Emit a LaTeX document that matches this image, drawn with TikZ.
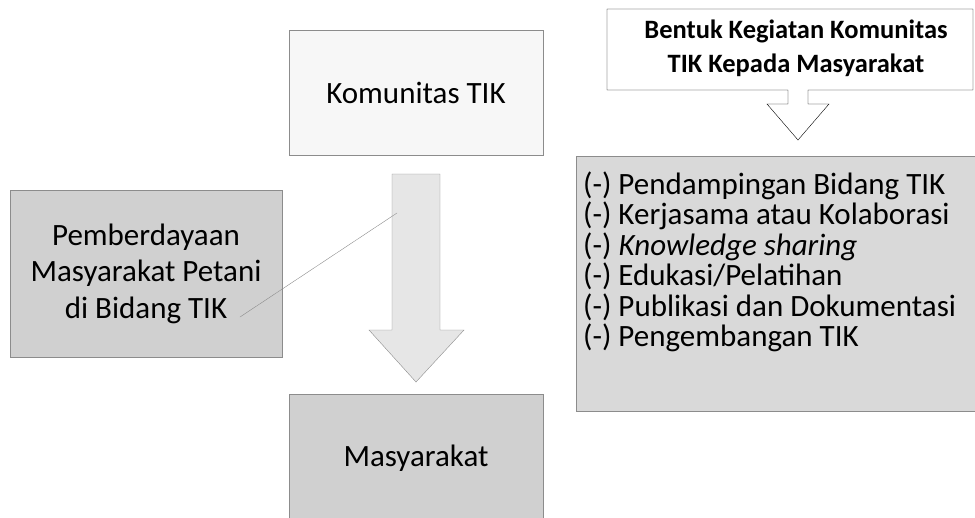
\documentclass[tikz,border=0pt]{standalone}
\usepackage{fontspec}
\setmainfont{Carlito}
\usetikzlibrary{positioning}

\definecolor{boxgray}{HTML}{D0D0D0}
\definecolor{listgray}{HTML}{D9D9D9}
\definecolor{arrowgray}{HTML}{E6E6E6}
\definecolor{topgray}{HTML}{F7F7F7}
\definecolor{edgegray}{HTML}{8C8C8C}

\tikzset{
  box/.style={draw=edgegray, rectangle, inner sep=0pt, align=center,
    font=\fontsize{31}{36.5}\selectfont},
}

\begin{document}
\begin{tikzpicture}[x=1pt,y=-1pt]
\useasboundingbox (0,0) rectangle (975,517);

% boxes left
\node[box, fill=topgray, minimum width=254pt, minimum height=125pt] (komunitas) at (416,92.5) {Komunitas TIK};
\node[box, fill=boxgray, minimum width=272pt, minimum height=167pt] (pemberdayaan) at (146,273.5) {Pemberdayaan\\Masyarakat Petani\\di Bidang TIK};
\node[box, fill=boxgray, minimum width=254pt, minimum height=128pt] (masyarakat) at (416,458) {Masyarakat};

% big arrow
\draw[edgegray, fill=arrowgray] (392,174) -- (440,174) -- (440,330) -- (464,330) -- (416,382) -- (369,330) -- (392,330) -- cycle;

% pointer line
\coordinate (lineend) at (397,213);
\draw[edgegray] (240,317) -- (lineend);

% callout
\draw[black, fill=white] (607,9) -- (973,9) -- (973,90) -- (808,90) -- (808,104) -- (829,104)
  -- (798,140) -- (767,104) -- (788,104) -- (788,90) -- (607,90) -- cycle;
\node[align=center, font=\fontsize{26.5}{34}\selectfont\bfseries] (judul) at (796,48)
  {Bentuk Kegiatan Komunitas\\TIK Kepada Masyarakat};

% list
\draw[edgegray, fill=listgray] (576,156) rectangle (990,411);
\node[anchor=west, align=left, inner sep=0pt, font=\fontsize{31}{30.5}\selectfont] (kegiatan) at (583,262)
  {(-) Pendampingan Bidang TIK\\
   (-) Kerjasama atau Kolaborasi\\
   (-) \textit{Knowledge sharing}\\
   (-) Edukasi/Pelatihan\\
   (-) Publikasi dan Dokumentasi\\
   (-) Pengembangan TIK};
\end{tikzpicture}
\end{document}
